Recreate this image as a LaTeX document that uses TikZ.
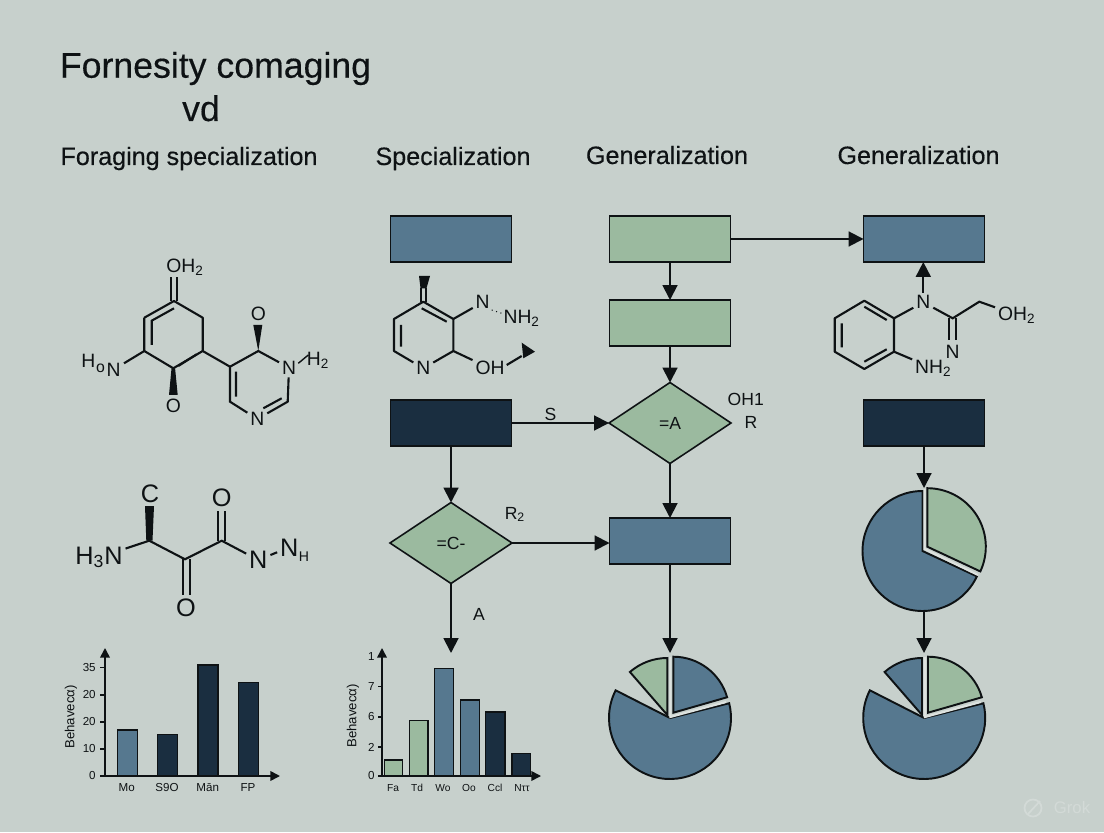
\documentclass[tikz,border=0pt]{standalone}
\usepackage{fontspec}
\setmainfont{Liberation Sans}
\newfontfamily\medfont[FakeBold=.35]{Liberation Sans}
\usetikzlibrary{arrows.meta}
\usetikzlibrary{shapes.geometric}
\definecolor{bgc}{HTML}{C7D0CC}
\definecolor{blu}{HTML}{56788F}
\definecolor{grn}{HTML}{9BBA9F}
\definecolor{drk}{HTML}{1A2E40}
\definecolor{ink}{HTML}{0E1214}
\definecolor{gapc}{HTML}{DDE2DF}
\definecolor{wmk}{HTML}{D3DAD7}
\newcommand{\fsz}[1]{\fontsize{#1}{#1}\selectfont}
\tikzset{
 box/.style={draw=ink,line width=.9pt,minimum width=2.42cm,minimum height=.92cm,inner sep=0pt,outer sep=0pt},
 cond/.style={diamond,draw=ink,line width=.9pt,fill=grn,minimum width=2.44cm,minimum height=1.62cm,inner sep=0pt,outer sep=0pt,text=ink,font=\fsz{10}},
 flow/.style={draw=ink,line width=1.1pt,-{Triangle[length=8.5pt,width=8.5pt]}},
 bond/.style={draw=ink,line width=1.2pt},
 wedge/.style={fill=ink},
 atom/.style={text=ink,inner sep=1.5pt,font=\fsz{11}},
 atombig/.style={text=ink,inner sep=1.5pt,font=\fsz{14.4}},
 lab/.style={text=ink,inner sep=0pt,font=\fsz{10}},
 head/.style={text=ink,anchor=base,inner sep=0pt,font=\medfont\fsz{14.3}},
 title/.style={text=ink,anchor=base,inner sep=0pt,font=\medfont\fsz{20.3}},
 bar/.style={draw=ink,line width=.9pt},
 axis/.style={draw=ink,line width=.9pt,-{Triangle[length=5.5pt,width=5.5pt]}},
 tick/.style={text=ink,inner sep=0pt,font=\fsz{6.6}},
 tickb/.style={text=ink,inner sep=0pt,font=\fsz{5.8}},
 slice/.style={draw=ink,line width=1.1pt},
 gap/.style={draw=gapc,line width=1.2pt},
}
\begin{document}
\begin{tikzpicture}[x=.02cm,y=.02cm]
\useasboundingbox (0,0) rectangle (1104,832);
\fill[bgc] (0,0) rectangle (1104,832);
% headings
\node[title] (ttl) at (215.5,754.3) {Fornesity comaging};
\node[title] (ttlb) at (201,711) {vd};
\node[head] (heada) at (189,667) {Foraging specialization};
\node[head] (headb) at (453,667) {Specialization};
\node[head] (headc) at (667,668) {Generalization};
\node[head] (headd) at (918.5,668) {Generalization};
% flow boxes
\node[box,fill=blu] (spa) at (451,593) {};
\node[box,fill=grn] (gea) at (670,593) {};
\node[box,fill=blu] (gfa) at (924,593) {};
\node[box,fill=grn] (geb) at (670,509) {};
\node[box,fill=drk] (spb) at (451,409) {};
\node[box,fill=drk] (gfb) at (924,409) {};
\node[cond] (cda) at (670,409) {=A};
\node[cond] (cdb) at (451,289) {=C-};
\node[box,fill=blu] (gec) at (670,291) {};
\coordinate (tobar) at (451,179);
\coordinate (topiea) at (670,179);
\coordinate (topieb) at (924,344);
\coordinate (frompie) at (924,222);
\coordinate (topiec) at (924,179);
\draw[flow] (gea) -- (gfa);
\draw[flow] (gea) -- (geb);
\draw[flow] (geb) -- (cda);
\draw[flow] (spb) -- node[lab,above=1pt,pos=.4] (ls) {S} (cda);
\draw[flow] (spb) -- (cdb);
\draw[flow] (cda) -- (gec);
\draw[flow] (cdb.east) -- (cdb.east -| gec.west);
\draw[flow] (cdb) -- (tobar);
\draw[flow] (gec) -- (topiea);
\draw[flow] (gfb) -- (topieb);
\draw[flow] (frompie) -- (topiec);
\node[lab] (loh) at (745.7,432.7) {OH1};
\node[lab] (lr) at (751,409.3) {R};
\node[lab] (lrt) at (515,317.7) {R\textsubscript{2}};
\node[lab] (la) at (479,217.7) {A};
% first molecule
\coordinate (aa) at (174,531);
\coordinate (ab) at (202.7,514.3);
\coordinate (ac) at (202.7,481);
\coordinate (ad) at (173.3,463.7);
\coordinate (ae) at (144.3,481);
\coordinate (af) at (144.3,514.3);
\draw[bond,line join=round] (af)--(aa)--(ab)--(ac)--(ad)--(ae)--(af);
\draw[bond] (151.7,487)--(151.7,511.3)--(174,523.7);
\draw[bond] (178.3,466)--(196.7,477.7);
\draw[bond] (171,531)--(171,555.3) (177.3,531)--(177.3,555.3);
\node[atom] (oha) at (185,565) {OH\textsubscript{2}};
\fill[wedge] (171.5,463.7)--(169,437)--(177.7,437)--(175.1,463.7)--cycle;
\node[atom] (oa) at (173.3,426) {O};
\node[atom] (hna) at (101,467) {H\hspace{.5pt}\raisebox{-3pt}{\fsz{9}o}\hspace{1pt}\raisebox{-5pt}{N}};
\draw[bond] (ae)--(124,468.7);
\coordinate (ba) at (230,465.3);
\coordinate (bb) at (258.3,481);
\node[atom] (nba) at (289,464.3) {N};
\coordinate (bc) at (287.7,430.3);
\node[atom] (nbb) at (257.3,413) {N};
\coordinate (bd) at (230,430.3);
\draw[bond] (ac)--(ba)--(bb)--(nba)--(bc)--(nbb)--(bd)--(ba);
\draw[bond] (236,460.3)--(236,435.3) (263.3,423.7)--(281.7,433.7);
\fill[wedge] (bb)--(253.3,507)--(262.3,507)--cycle;
\node[atom] (ob) at (258.3,518) {O};
\node[atom] (hb) at (318,472) {H\textsubscript{2}};
\draw[bond,line width=.8pt] (298.3,468.7)--(308.3,477);
% second molecule
\coordinate (ca) at (149.3,291.3);
\coordinate (cb) at (185,272.7);
\coordinate (cc) at (221.7,291.3);
\node[atombig] (hnc) at (99,274.7) {H\textsubscript{3}N};
\node[atombig] (nca) at (258.3,272) {N};
\node[atombig] (ncb) at (289.3,284.7) {N};
\node[atom,font=\fsz{8}] (hc) at (304,275.3) {H};
\node[atombig] (cl) at (150,338.7) {C};
\node[atombig] (oc) at (221.7,334.7) {O};
\node[atombig] (od) at (186,224.7) {O};
\draw[bond] (hnc)--(ca)--(cb)--(cc)--(nca)--(ncb);
\fill[wedge] (146.3,291.3)--(145,326)--(154,326)--(152.5,291.3)--cycle;
\draw[bond] (218.3,291.3)--(218.3,321.3) (225,291.3)--(225,321.3);
\draw[bond] (182.7,272.7)--(182.7,237) (190,272.7)--(190,237);
% third molecule
\coordinate (da) at (423.3,530.3);
\coordinate (db) at (453.3,513);
\coordinate (dc) at (453.3,481);
\node[atom] (nd) at (423.3,463.7) {N};
\coordinate (de) at (394,481);
\coordinate (df) at (394,513);
\draw[bond,line join=round] (nd)--(de)--(df)--(da)--(db)--(dc)--(nd);
\draw[bond] (421.7,523.7)--(446.7,510.3) (401,507)--(401,485.3);
\draw[bond] (421,530.3)--(421,543.7) (426,530.3)--(426,543.7);
\fill[wedge] (419,556)--(430,556)--(426.5,543.7)--(420.5,543.7)--cycle;
\node[atom] (ndb) at (482.7,529.7) {N};
\node[atom] (nhd) at (521.7,513.7) {NH\textsubscript{2}};
\node[atom] (ohd) at (490,463.7) {OH};
\draw[bond] (db)--(ndb) (dc)--(ohd);
\draw[bond,line width=.6pt,dotted] (491.7,522)--(501.7,518.7);
\draw[bond] (506.7,467)--(521.7,476);
\fill[wedge] (521.7,489.3)--(535,480.3)--(523.3,473.7)--cycle;
% fourth molecule
\coordinate (ea) at (864.3,531.3);
\coordinate (eb) at (894,513.7);
\coordinate (ec) at (894,480.3);
\coordinate (ed) at (864.3,463);
\coordinate (ee) at (834.7,480.3);
\coordinate (ef) at (834.7,513.7);
\draw[bond,line join=round] (ea)--(eb)--(ec)--(ed)--(ee)--(ef)--cycle;
\draw[bond] (864.3,525.3)--(886.7,512) (886.7,482.7)--(864.3,470.3) (841.7,508.7)--(841.7,484.7);
\node[atom] (ne) at (923.3,529.7) {N};
\node[atom] (nhe) at (933.3,463.7) {NH\textsubscript{2}};
\node[atom] (nf) at (952.7,480.3) {N};
\node[atom] (ohe) at (1016.7,517) {OH\textsubscript{2}};
\coordinate (fa) at (952.7,513.7);
\coordinate (fb) at (979.3,530.3);
\draw[bond] (eb)--(ne)--(fa)--(fb)--(ohe) (ec)--(nhe);
\draw[bond] (949.3,513.7)--(949.3,492) (956,513.7)--(956,492);
\draw[flow] (ne) -- (ne |- gfa.south);
% bar charts
\foreach \xa/\xb/\ytop/\col in {117.3/137.3/102/blu, 157.3/177.3/97.3/drk, 198/218/167/drk, 238.3/258.7/149.7/drk,
 384.7/402.3/72/grn, 409.3/428/111.3/grn, 434.7/453.3/163.7/blu, 460.3/479.3/132/blu, 485.7/505/120/drk, 511.7/530.3/78.7/drk} {
 \draw[bar,fill=\col] (\xa,56) rectangle (\xb,\ytop);
 }
\draw[axis] (100,56)--(280,56);
\draw[axis] (105,56)--(105,184);
\draw[axis] (378,56)--(541,56);
\draw[axis] (382,56)--(382,184);
\foreach \y/\ti in {164.3/35, 137/20, 110/20, 83/10, 56/0} {
 \draw[bar] (100,\y)--(105,\y);
 \node[tick,anchor=east] at (96,\y) {\ti};
 }
\foreach \y/\ti in {175.3/1, 145.3/7, 115/6, 85/2, 56/0} {
 \draw[bar] (378,\y)--(382,\y);
 \node[tick,anchor=east] at (375,\y) {\ti};
 }
\foreach \x/\ti in {126.7/Mo, 167/S9O, 207.7/Mān, 248/FP} {
 \node[tick] at (\x,44.3) {\ti};
 }
\foreach \x/\ti in {393/Fa, 417/Td, 443/Wo, 469/Oo, 495/Ccl, 522/Nττ} {
 \node[tickb] at (\x,44.3) {\ti};
 }
\node[tick,rotate=90,font=\fsz{7.5}] (yla) at (71,115) {Behavecα)};
\node[tick,rotate=90,font=\fsz{7.5}] (ylb) at (353,116) {Behavecα)};
% pies
\foreach \cx/\cy/\ra/\rb/\r/\col in {670/114/153/374/61/blu, 673.3/119.3/16/90/56/blu, 667.3/117/90/131/57/grn,
 924.2/114/153/374/61/blu, 928/119.3/16/90/56/grn, 922/117/90/131/57/blu,
 922.5/281/90/335/60/blu, 927.3/285.3/-25/90/58.5/grn} {
 \draw[slice,fill=\col] (\cx,\cy) -- ++(\ra:\r) arc (\ra:\rb:\r) -- cycle;
 }
\foreach \ax/\ay/\bx/\by/\cx/\cy in {670.3/175/670.3/115/726/130, 925/175/925/115/980.7/130, 924.6/343/924.6/283/978/257} {
 \draw[gap] (\ax,\ay)--(\bx,\by)--(\cx,\cy);
 }
% watermark
\draw[wmk,line width=1pt] (1033,24) circle (8.5);
\draw[wmk,line width=1pt] (1028,18)--(1040,31);
\node[text=wmk,inner sep=0pt,font=\fsz{9.5}] (grk) at (1072,24) {Grok};
\end{tikzpicture}
\end{document}
